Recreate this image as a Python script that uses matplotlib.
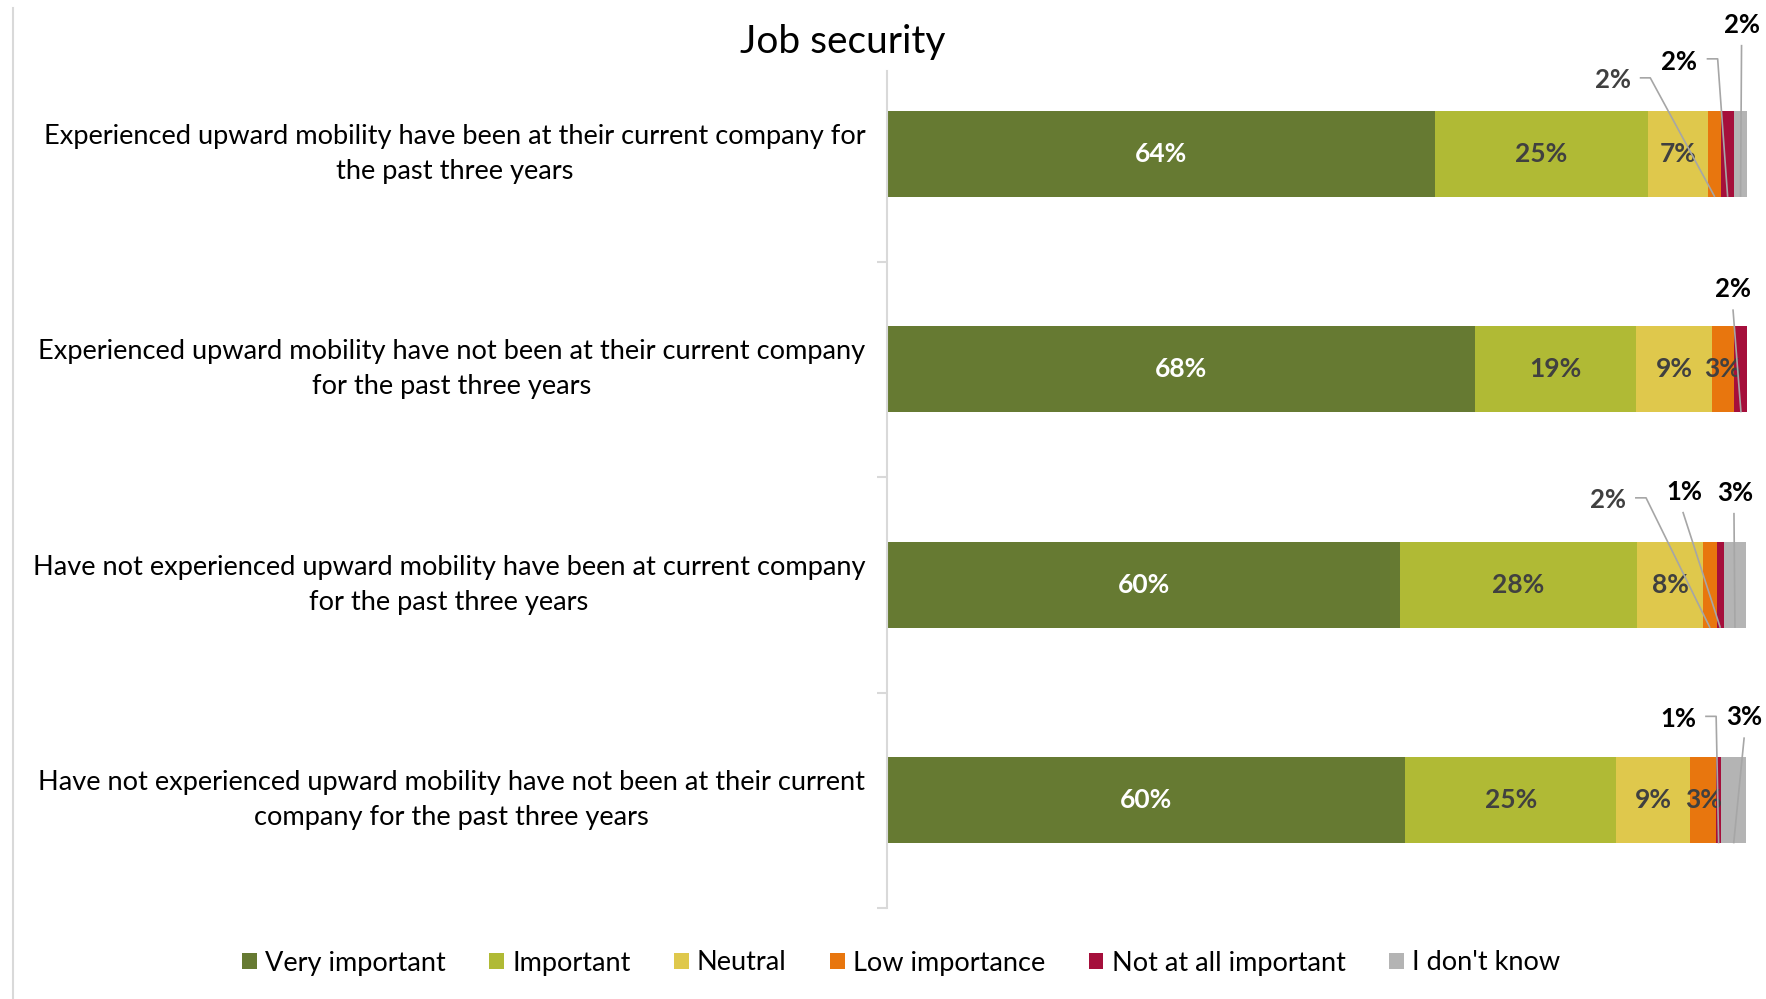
import numpy as np
import matplotlib
matplotlib.use("Agg")
import matplotlib.pyplot as plt
from matplotlib.lines import Line2D

plt.rcParams['font.family'] = ['Lato', 'DejaVu Sans']

# ---------------- data ----------------
categories = [
    "Experienced upward mobility have been at their current company for\nthe past three years",
    "Experienced upward mobility have not been at their current company\nfor the past three years",
    "Have not experienced upward mobility have been at current company\nfor the past three years",
    "Have not experienced upward mobility have not been at their current\ncompany for the past three years",
]
series_names = ["Very important", "Important", "Neutral", "Low importance",
                "Not at all important", "I don't know"]
very_important = [63.7, 68.4, 59.6, 60.2]
important = [24.8, 18.7, 27.6, 24.6]
neutral = [7.0, 8.8, 7.7, 8.6]
low_importance = [1.5, 2.6, 1.6, 3.0]
not_at_all_important = [1.5, 1.6, 0.8, 0.6]
dont_know = [1.5, 0.0, 2.6, 2.9]
title = "Job security"

series_values = [very_important, important, neutral, low_importance,
                 not_at_all_important, dont_know]
colors = ["#667A32", "#B0BA35", "#DFC84C", "#E8760E", "#A50F3B", "#B4B4B4"]
inside_text_colors = ["white", "#404040", "#404040", "#404040", "#404040", "#404040"]
callout_text_colors = ["black", "black", "black", "#404040", "black", "black"]

# callout layout (pixel offsets from segment bottom-centre, y up)
# (row, series): (text_offset, line_start_offset, elbow_offset or None)
callouts = {
    (0, 3): ((-102, 117), (-75, 119), (-64.5, 119)),
    (0, 4): ((-49, 135), (-21, 138), (-10, 138)),
    (0, 5): ((1, 172), (1, 152), None),
    (1, 4): ((-8, 123), (-8, 103), None),
    (2, 3): ((-102, 128), (-75, 130), (-64, 130)),
    (2, 4): ((-36.5, 136), (-37.5, 116), None),
    (2, 5): ((0, 135), (-1, 115), None),
    (3, 4): ((-40.5, 124), (-13.5, 127), (-2.5, 127)),
    (3, 5): ((10.5, 126), (10.5, 106), None),
}

W, H = 1766, 999
fig = plt.figure(figsize=(W / 100, H / 100), dpi=100)
ax = fig.add_axes([887.5 / W, 1 - 908 / H, (1747 - 887.5) / W, (908 - 46) / H])

y = np.arange(len(categories))
bar_h = 0.40
left = np.zeros(len(categories))
handles = []
for si, vals in enumerate(series_values):
    vals = np.array(vals, dtype=float)
    b = ax.barh(y, vals, left=left, height=bar_h, color=colors[si],
                label=series_names[si], zorder=2, linewidth=0)
    handles.append(b)
    left = left + vals

ax.set_xlim(0, 100)
ax.set_ylim(3.5, -0.5)

for s in ["top", "right", "bottom"]:
    ax.spines[s].set_visible(False)
ax.spines["left"].set_color("#D9D9D9")
ax.spines["left"].set_linewidth(1.5)
ax.spines["left"].set_bounds(-0.384, 3.5)
ax.set_xticks([])
ax.set_yticks(y)
ax.set_yticklabels(categories, fontsize=19.6, color="black", linespacing=1.5)
for lbl in ax.get_yticklabels():
    lbl.set_multialignment("center")
    lbl.set_verticalalignment("center")
ax.tick_params(axis="y", which="major", length=0, pad=16)
ax.set_yticks([0.5, 1.5, 2.5, 3.5], minor=True)
ax.tick_params(axis="y", which="minor", length=7.5, width=1.5, color="#D9D9D9")

fig.canvas.draw()


def offset_point(anchor, d):
    disp = ax.transData.transform(anchor)
    return ax.transData.inverted().transform(disp + np.array(d, dtype=float))


# labels
for ri in range(len(categories)):
    start = 0.0
    for si, vals in enumerate(series_values):
        v = vals[ri]
        if v <= 0:
            continue
        centre = start + v / 2
        txt = f"{round(v)}%"
        key = (ri, si)
        if key in callouts:
            t_off, s_off, e_off = callouts[key]
            anchor = (centre, ri + bar_h / 2)
            tp = offset_point(anchor, t_off)
            ax.text(tp[0], tp[1], txt, ha="center", va="center", fontsize=18.5,
                    fontweight="bold", color=callout_text_colors[si], zorder=6)
            pts = [offset_point(anchor, s_off)]
            if e_off is not None:
                pts.append(offset_point(anchor, e_off))
            pts.append(np.array(anchor))
            pts = np.array(pts)
            ax.plot(pts[:, 0], pts[:, 1], color="#A6A6A6", lw=1.2, zorder=5,
                    clip_on=False, solid_capstyle="butt")
        else:
            ax.text(centre, ri, txt, ha="center", va="center", fontsize=19,
                    fontweight="bold", color=inside_text_colors[si], zorder=4)
        start += v

fig.text(842.5 / W, 1 - 42 / H, title, ha="center", va="center", fontsize=28,
         color="black")

fig.legend(handles=handles, labels=series_names, loc="center",
           bbox_to_anchor=(901 / W, 1 - 963 / H), ncol=6, frameon=False,
           fontsize=19.5, handlelength=0.55, handleheight=0.55, handletextpad=0.3,
           columnspacing=1.6)

fig.add_artist(Line2D([13 / W, 13 / W], [0, 1 - 8 / H], transform=fig.transFigure,
                      color="#D9D9D9", lw=1.5))

fig.savefig("out.png", dpi=100)
